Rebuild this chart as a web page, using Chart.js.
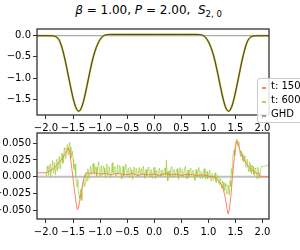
<!DOCTYPE html>
<html>
<head>
<meta charset="utf-8">
<script src="https://cdn.jsdelivr.net/npm/chart.js@4"></script>
<style>
  body { margin: 0; width: 300px; height: 250px; overflow: hidden; background: #fff; position: relative; font-family: "DejaVu Sans", sans-serif; }
  canvas { position: absolute; left: 0; }
  #title { position: absolute; top: 3px; left: 0; width: 297px; text-align: center; font-size: 12px; color: #000; white-space: nowrap; }
  #title sub { font-size: 8.5px; }
  #legend { position: absolute; left: 257px; top: 78px; width: 60px; height: 43px; background: rgba(255,255,255,0.85); border: 1px solid #ccc; border-radius: 3px; font-size: 10px; z-index: 5; }
  #legend div { position: absolute; left: 13px; white-space: nowrap; }
  #legend span { position: absolute; left: 4px; width: 4px; height: 1.5px; }
</style>
</head>
<body>
<div id="title"><i>β</i> = 1.00, <i>P</i> = 2.00,&nbsp; <i>S</i><sub>2, 0</sub></div>
<canvas id="top" width="300" height="140" style="top:0"></canvas>
<canvas id="bot" width="300" height="130" style="top:120px"></canvas>
<div id="legend">
  <span style="top:8px;background:rgba(255,110,70,0.85)"></span><div style="top:1px">t: 150</div>
  <span style="top:22px;background:rgba(154,205,50,0.8)"></span><div style="top:15px">t: 600</div>
  <span style="top:36px;background:#999"></span><div style="top:29px">GHD</div>
</div>
<script>
// tick labels
const xTicks = [-2.0, -1.5, -1.0, -0.5, 0.0, 0.5, 1.0, 1.5, 2.0];
const topYTicks = [0.0, -0.5, -1.0, -1.5];
const botYTicks = [0.05, 0.025, 0.0, -0.025, -0.05];

// top panel: profile (t:150, t:600 and GHD lie on top of each other)
const topX = [-2.165, -2.0, -1.9, -1.845, -1.795, -1.745, -1.695, -1.645, -1.595, -1.545, -1.495, -1.445, -1.395,
  -1.345, -1.295, -1.245, -1.195, -1.145, -1.095, -1.045, -0.995, -0.945, -0.895, -0.795, -0.5, 0, 0.5,
  0.773, 0.873, 0.923, 0.973, 1.023, 1.073, 1.123, 1.173, 1.223, 1.273, 1.323, 1.373,
  1.423, 1.473, 1.523, 1.573, 1.623, 1.673, 1.723, 1.773, 1.823, 1.9, 2.0, 2.12];
const topProfile = [0, 0, -0.002, -0.01, -0.04, -0.13, -0.32, -0.58, -0.89, -1.20, -1.49, -1.70, -1.78,
  -1.70, -1.49, -1.20, -0.89, -0.60, -0.37, -0.20, -0.08, -0.01, 0.02, 0.03, 0.03, 0.03, 0.03,
  0.03, 0.02, -0.01, -0.08, -0.20, -0.37, -0.60, -0.89, -1.20, -1.49, -1.70, -1.78,
  -1.70, -1.49, -1.20, -0.89, -0.58, -0.32, -0.13, -0.04, -0.01, -0.002, 0, 0];
const zeroX = [-2.165, 2.12];
const zeroY = [0, 0];

// bottom panel: difference to GHD
const t150X = [-2.165, -2.0, -1.95, -1.9, -1.85, -1.8, -1.75, -1.7, -1.65, -1.62, -1.59, -1.56, -1.53, -1.5,
  -1.47, -1.44, -1.42, -1.4, -1.37, -1.34, -1.31, -1.28, -1.25, -1.2, -1.1, -1.0, -0.9, -0.8, -0.7, -0.6,
  -0.5, -0.4, -0.3, -0.2, -0.1, 0, 0.1, 0.2, 0.3, 0.4, 0.5, 0.6, 0.7, 0.8, 0.9, 1.0, 1.1, 1.15, 1.2, 1.25,
  1.28, 1.31, 1.34, 1.365, 1.39, 1.42, 1.45, 1.48, 1.51, 1.53, 1.56, 1.6, 1.65, 1.7, 1.75, 1.8, 1.85, 1.9,
  1.95, 1.96, 2.12];
const t150Y = [0.006, 0.006, 0.008, 0.010, 0.013, 0.017, 0.022, 0.027, 0.033, 0.038, 0.043, 0.036, 0.018, -0.002,
  -0.022, -0.040, -0.049, -0.046, -0.033, -0.018, -0.006, 0.003, 0.006, 0.005, 0.006, 0.004, 0.005, 0.003, 0.005, 0.004,
  0.003, 0.005, 0.002, 0.004, 0.003, 0.004, 0.002, 0.005, 0.003, 0.004, 0.002, 0.004, 0.003, 0.002, 0.003, 0.001, 0.0, -0.003, -0.007, -0.013,
  -0.020, -0.030, -0.045, -0.055, -0.048, -0.025, 0.005, 0.030, 0.048, 0.053, 0.045, 0.035, 0.027, 0.020, 0.014, 0.010, 0.007, 0.005,
  0.004, 0.0, 0.0];

const t600X = [
  -2.0000, -1.9875, -1.9750, -1.9625, -1.9500, -1.9375, -1.9250, -1.9125, -1.9000, -1.8875, -1.8750, -1.8625, -1.8500, -1.8375, -1.8250, -1.8125,
  -1.8000, -1.7875, -1.7750, -1.7625, -1.7500, -1.7375, -1.7250, -1.7125, -1.7000, -1.6875, -1.6750, -1.6625, -1.6500, -1.6375, -1.6250, -1.6125,
  -1.6000, -1.5875, -1.5750, -1.5625, -1.5500, -1.5375, -1.5250, -1.5125, -1.5000, -1.4875, -1.4750, -1.4625, -1.4500, -1.4375, -1.4250, -1.4125,
  -1.4000, -1.3875, -1.3750, -1.3625, -1.3500, -1.3375, -1.3250, -1.3125, -1.3000, -1.2875, -1.2750, -1.2625, -1.2500, -1.2375, -1.2250, -1.2125,
  -1.2000, -1.1875, -1.1750, -1.1625, -1.1500, -1.1375, -1.1250, -1.1125, -1.1000, -1.0875, -1.0750, -1.0625, -1.0500, -1.0375, -1.0250, -1.0125,
  -1.0000, -0.9875, -0.9750, -0.9625, -0.9500, -0.9375, -0.9250, -0.9125, -0.9000, -0.8875, -0.8750, -0.8625, -0.8500, -0.8375, -0.8250, -0.8125,
  -0.8000, -0.7875, -0.7750, -0.7625, -0.7500, -0.7375, -0.7250, -0.7125, -0.7000, -0.6875, -0.6750, -0.6625, -0.6500, -0.6375, -0.6250, -0.6125,
  -0.6000, -0.5875, -0.5750, -0.5625, -0.5500, -0.5375, -0.5250, -0.5125, -0.5000, -0.4875, -0.4750, -0.4625, -0.4500, -0.4375, -0.4250, -0.4125,
  -0.4000, -0.3875, -0.3750, -0.3625, -0.3500, -0.3375, -0.3250, -0.3125, -0.3000, -0.2875, -0.2750, -0.2625, -0.2500, -0.2375, -0.2250, -0.2125,
  -0.2000, -0.1875, -0.1750, -0.1625, -0.1500, -0.1375, -0.1250, -0.1125, -0.1000, -0.0875, -0.0750, -0.0625, -0.0500, -0.0375, -0.0250, -0.0125,
  0.0000, 0.0125, 0.0250, 0.0375, 0.0500, 0.0625, 0.0750, 0.0875, 0.1000, 0.1125, 0.1250, 0.1375, 0.1500, 0.1625, 0.1750, 0.1875,
  0.2000, 0.2125, 0.2250, 0.2375, 0.2500, 0.2625, 0.2750, 0.2875, 0.3000, 0.3125, 0.3250, 0.3375, 0.3500, 0.3625, 0.3750, 0.3875,
  0.4000, 0.4125, 0.4250, 0.4375, 0.4500, 0.4625, 0.4750, 0.4875, 0.5000, 0.5125, 0.5250, 0.5375, 0.5500, 0.5625, 0.5750, 0.5875,
  0.6000, 0.6125, 0.6250, 0.6375, 0.6500, 0.6625, 0.6750, 0.6875, 0.7000, 0.7125, 0.7250, 0.7375, 0.7500, 0.7625, 0.7750, 0.7875,
  0.8000, 0.8125, 0.8250, 0.8375, 0.8500, 0.8625, 0.8750, 0.8875, 0.9000, 0.9125, 0.9250, 0.9375, 0.9500, 0.9625, 0.9750, 0.9875,
  1.0000, 1.0125, 1.0250, 1.0375, 1.0500, 1.0625, 1.0750, 1.0875, 1.1000, 1.1125, 1.1250, 1.1375, 1.1500, 1.1625, 1.1750, 1.1875,
  1.2000, 1.2125, 1.2250, 1.2375, 1.2500, 1.2625, 1.2750, 1.2875, 1.3000, 1.3125, 1.3250, 1.3375, 1.3500, 1.3625, 1.3750, 1.3875,
  1.4000, 1.4125, 1.4250, 1.4375, 1.4500, 1.4625, 1.4750, 1.4875, 1.5000, 1.5125, 1.5250, 1.5375, 1.5500, 1.5625, 1.5750, 1.5875,
  1.6000, 1.6125, 1.6250, 1.6375, 1.6500, 1.6625, 1.6750, 1.6875, 1.7000, 1.7125, 1.7250, 1.7375, 1.7500, 1.7625, 1.7750, 1.7875,
  1.8000, 1.8125, 1.8250, 1.8375, 1.8500, 1.8625, 1.8750, 1.8875, 1.9000, 1.9125, 1.9250, 1.9375, 1.9500, 1.975, 2.12];
const t600Y = [
  0.006, 0.000, 0.016, 0.011, 0.002, 0.014, 0.019, -0.001, 0.008, 0.017, 0.024, 0.005, 0.010, 0.021, 0.003, 0.012,
  0.026, 0.009, 0.014, 0.028, 0.030, 0.012, 0.018, 0.035, 0.034, 0.020, 0.022, 0.043, 0.040, 0.027, 0.031, 0.045,
  0.048, 0.033, 0.037, 0.051, 0.044, 0.028, 0.030, 0.038, 0.026, 0.014, 0.010, 0.019, 0.002, -0.008, -0.015, -0.004,
  -0.022, -0.028, -0.032, -0.019, -0.024, -0.035, -0.018, -0.008, -0.004, -0.015, -0.010, 0.006, 0.004, -0.006, 0.012, 0.002,
  -0.002, 0.010, 0.016, 0.004, 0.006, 0.018, 0.020, 0.007, 0.003, 0.015, 0.014, 0.000, 0.009, 0.019, 0.022, 0.005,
  0.001, 0.012, 0.017, 0.003, 0.006, 0.016, 0.013, 0.004, -0.002, 0.010, 0.019, 0.002, 0.008, 0.015, 0.011, -0.001,
  0.000, 0.011, 0.021, 0.006, 0.005, 0.014, 0.015, 0.001, 0.003, 0.012, 0.018, 0.004, 0.007, 0.017, 0.012, 0.002,
  -0.003, 0.008, 0.016, 0.001, 0.009, 0.013, 0.019, 0.005, 0.002, 0.011, 0.013, -0.001, 0.006, 0.014, 0.010, 0.003,
  -0.004, 0.009, 0.015, 0.002, 0.004, 0.013, 0.012, 0.000, 0.001, 0.010, 0.014, 0.003, 0.007, 0.012, 0.003, 0.008,
  0.016, 0.004, -0.002, 0.010, 0.011, 0.001, 0.005, 0.014, 0.013, 0.002, 0.000, 0.011, 0.009, -0.002, 0.004, 0.012,
  0.014, 0.003, -0.003, 0.009, 0.008, 0.000, 0.003, 0.013, 0.012, 0.004, 0.001, 0.010, 0.010, 0.002, 0.004, 0.011,
  0.013, 0.002, 0.025, 0.008, -0.006, 0.006, 0.009, 0.000, 0.003, 0.014, 0.015, 0.002, -0.001, 0.011, 0.010, 0.001,
  0.004, 0.010, 0.012, 0.001, -0.004, 0.008, 0.014, 0.003, 0.002, 0.011, 0.009, 0.000, 0.005, 0.012, 0.016, 0.004,
  -0.003, 0.007, 0.010, -0.001, 0.001, 0.012, 0.013, 0.002, 0.004, 0.010, 0.008, 0.001, -0.005, 0.006, 0.011, 0.000,
  0.002, 0.009, 0.014, 0.000, -0.002, 0.008, 0.007, -0.002, 0.001, 0.010, 0.012, 0.000, -0.004, 0.006, 0.008, -0.003,
  -0.001, 0.006, 0.010, -0.002, -0.006, 0.004, 0.005, -0.005, -0.004, 0.003, 0.006, -0.007, -0.009, 0.001, 0.002, -0.008,
  -0.011, -0.002, -0.003, -0.012, -0.016, -0.006, -0.008, -0.019, -0.021, -0.010, -0.014, -0.026, -0.024, -0.012, -0.018, -0.027,
  -0.006, -0.014, 0.012, 0.004, 0.028, 0.036, 0.040, 0.031, 0.050, 0.054, 0.056, 0.047, 0.046, 0.052, 0.042, 0.033,
  0.030, 0.038, 0.034, 0.024, 0.022, 0.031, 0.027, 0.016, 0.014, 0.026, 0.021, 0.011, 0.008, 0.022, 0.018, 0.007,
  0.004, 0.017, 0.015, 0.004, 0.002, 0.013, 0.012, 0.001, -0.003, 0.014, 0.010, -0.002, 0.003, 0.015, 0.017];

const pts = (xs, ys) => xs.map((x, i) => ({ x: x, y: ys[i] }));
const minus = s => s.replace('-', '\u2212');

// box round the plot area
const frame = {
  id: 'frame',
  afterDatasetsDraw(chart) {
    const a = chart.chartArea, c = chart.ctx;
    c.save();
    c.strokeStyle = '#333';
    c.lineWidth = 1.3;
    c.strokeRect(a.left, a.top, a.right - a.left, a.bottom - a.top);
    c.restore();
  }
};

function axes(yMin, yMax, yTicks, digits, xHeight) {
  const font = { family: 'DejaVu Sans', size: 10 };
  return {
    x: {
      type: 'linear', min: -2.165, max: 2.12,
      afterBuildTicks: s => { s.ticks = xTicks.map(v => ({ value: v })); },
      afterFit: s => { s.height = xHeight; },
      ticks: { font: font, color: '#000', padding: 3, maxRotation: 0, callback: v => minus(v.toFixed(1)) },
      grid: { drawOnChartArea: false, tickLength: 4, color: '#333' },
      border: { display: false }
    },
    y: {
      min: yMin, max: yMax,
      afterBuildTicks: s => { s.ticks = yTicks.map(v => ({ value: v })); },
      afterFit: s => { s.width = 37; },
      ticks: { font: font, color: '#000', padding: 2, callback: v => minus(v.toFixed(digits)) },
      grid: { drawOnChartArea: false, tickLength: 4, color: '#333' },
      border: { display: false }
    }
  };
}

const common = {
  responsive: false,
  animation: false,
  devicePixelRatio: 1,
  elements: { point: { radius: 0 } },
  plugins: { legend: { display: false }, tooltip: { enabled: false } }
};

new Chart(document.getElementById('top'), {
  type: 'line',
  data: {
    datasets: [
      { label: 'GHD', data: pts(topX, topProfile), borderColor: 'rgba(40,40,20,0.75)', borderWidth: 1, cubicInterpolationMode: 'monotone', order: 1 },
      { label: 't: 150', data: pts(topX, topProfile), borderColor: 'rgba(255,110,70,0.85)', borderWidth: 1, cubicInterpolationMode: 'monotone', order: 2 },
      { label: 't: 600', data: pts(topX, topProfile), borderColor: 'rgba(154,205,50,0.9)', borderWidth: 2, cubicInterpolationMode: 'monotone', order: 3 },
      { label: 'zero', data: pts(zeroX, zeroY), borderColor: '#aaa', borderWidth: 1.3, order: 4 }
    ]
  },
  options: Object.assign({}, common, {
    layout: { padding: { top: 29, right: 31, left: 0, bottom: 0 } },
    scales: axes(-1.87, 0.158, topYTicks, 1, 25)
  }),
  plugins: [frame]
});

new Chart(document.getElementById('bot'), {
  type: 'line',
  data: {
    datasets: [
      { label: 't: 150', data: pts(t150X, t150Y), borderColor: 'rgba(255,110,70,0.85)', borderWidth: 1, order: 1 },
      { label: 't: 600', data: pts(t600X, t600Y), borderColor: 'rgba(154,205,50,0.65)', borderWidth: 1, order: 2 },
      { label: 'GHD', data: pts(zeroX, zeroY), borderColor: 'rgba(0,0,0,0.25)', borderWidth: 2, order: 3 }
    ]
  },
  options: Object.assign({}, common, {
    layout: { padding: { top: 13, right: 31, left: 0, bottom: 0 } },
    scales: axes(-0.0624, 0.0648, botYTicks, 3, 31)
  }),
  plugins: [frame]
});
</script>
</body>
</html>
